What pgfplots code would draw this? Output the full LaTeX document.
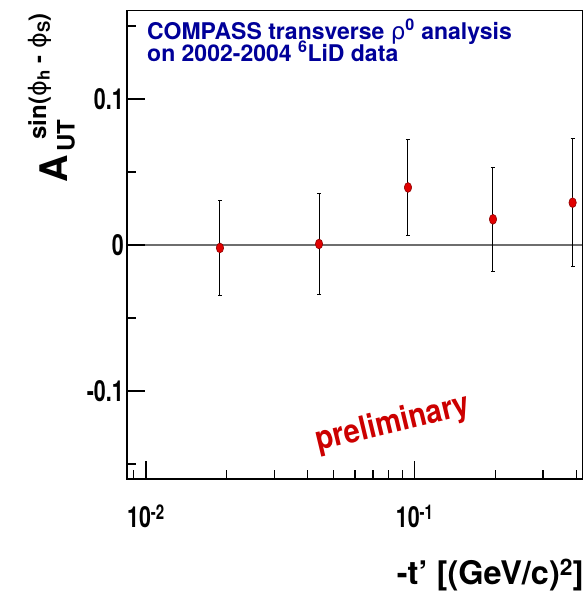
\documentclass[border=0pt]{standalone}
\usepackage{pgfplots}
\pgfplotsset{compat=1.18}
\usepackage{fontspec}
\setmainfont{TeX Gyre Heros}
\newfontfamily\tickfont{TeX Gyre Heros}[FakeStretch=0.74]
\newfontfamily\prelfont{TeX Gyre Heros}[FakeStretch=0.88]
\newfontfamily\gr{DejaVu Sans}
\definecolor{navy}{RGB}{0,0,153}
\definecolor{prelred}{RGB}{204,0,0}
\definecolor{mkred}{RGB}{225,0,0}
\definecolor{mkedge}{RGB}{140,0,0}
\definecolor{zerogray}{RGB}{110,110,110}
\newcommand{\fs}[1]{\fontsize{#1bp}{#1bp}\selectfont}

\pgfplotstableread{
x        y        e
0.01885  -0.0020  0.0328
0.04405   0.0007  0.0343
0.0944    0.0394  0.0330
0.1956    0.0176  0.0356
0.387     0.0290  0.0437
}\asym

\begin{document}
\begin{tikzpicture}
\useasboundingbox (0,0) rectangle (588bp,598bp);
\begin{axis}[
  at={(127.3bp,119bp)}, anchor=south west,
  scale only axis, width=455.4bp, height=468.3bp,
  xmode=log, xmin=0.00852, xmax=0.4218, ymin=-0.1603, ymax=0.1605,
  axis line style={line width=1.6bp},
  xtick={0.01,0.1}, xticklabels={10\textsuperscript{-2},10\textsuperscript{-1}},
  minor xtick={0.009,0.02,0.03,0.04,0.05,0.06,0.07,0.08,0.09,0.2,0.3,0.4},
  ytick={-0.1,0,0.1}, yticklabels={-0.1,0,0.1},
  minor ytick={-0.15,-0.05,0.05,0.15},
  tick align=inside, xtick pos=bottom, ytick pos=left,
  major tick length=18bp, minor tick length=9bp,
  every tick/.style={black, line width=1.2bp},
  tick label style={font=\fs{29}\tickfont\bfseries},
  xticklabel style={anchor=base, yshift=-49bp},
  axis on top,
]
\addplot[zerogray, line width=1.5bp, forget plot] coordinates {(0.00852,0) (0.4218,0)};
\addplot[only marks, mark=*, mark size=4.9bp,
  mark options={xscale=0.75, fill=mkred, draw=mkedge, line width=0.6bp},
  error bars/.cd, y dir=both, y explicit,
  error bar style={black, line width=1bp},
  error mark options={black, line width=1bp, mark size=2bp, rotate=90}]
  table[x=x, y=y, y error=e] {\asym};
\end{axis}
% info text
\node[anchor=base west, inner sep=0, text=navy, font=\fs{23}\bfseries] at (147bp,558.5bp)
  {COMPASS transverse {\gr\mdseries ρ}\textsuperscript{0} analysis};
\node[anchor=base west, inner sep=0, text=navy, font=\fs{23}\bfseries] at (147bp,536.3bp)
  {on 2002-2004 \textsuperscript{6}LiD data};
% preliminary
\node[rotate=13.5, inner sep=0, text=prelred, font=\fs{33}\prelfont\bfseries] at (393bp,174bp) {preliminary};
% x label
\node[anchor=base east, inner sep=0, font=\fs{32.5}\bfseries] at (584bp,14bp) {-t’ [(GeV/c)\textsuperscript{2}]};
% y label
\node[anchor=base west, inner sep=0, rotate=90, font=\bfseries] at (67bp,415bp)
  {{\fs{38}A}\hspace{4bp}\rlap{\raisebox{-7.5bp}{\fs{24}UT}}\hspace{12bp}\raisebox{21bp}{\fs{24}sin({\gr\mdseries ϕ}\textsubscript{h} - {\gr\mdseries ϕ}\textsubscript{S})}};
\end{tikzpicture}
\end{document}
